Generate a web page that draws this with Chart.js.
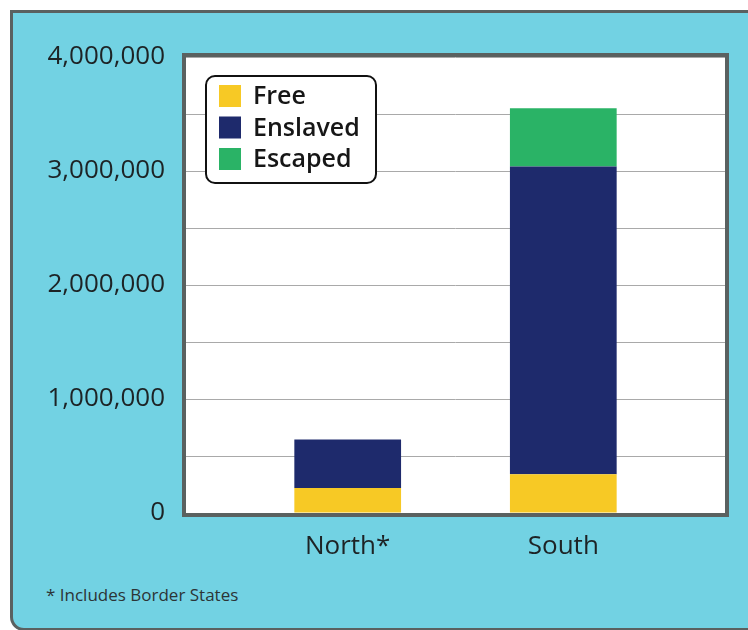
<!DOCTYPE html>
<html>
<head>
<meta charset="utf-8">
<script src="https://cdn.jsdelivr.net/npm/chart.js@4/dist/chart.umd.min.js"></script>
<style>
    body { margin: 0; background: #ffffff; width: 748px; height: 630px; overflow: hidden; position: relative; }
    .panel {
        position: absolute; left: 10px; top: 10px; width: 780px; height: 615px;
        background: #72d2e3; border: 3px solid #5a6160; border-bottom-left-radius: 14px;
    }
    .note {
        position: absolute; left: 46px; top: 583px;
        font-family: "Open Sans", sans-serif; font-size: 17px; color: #2c3436;
    }
    canvas { position: absolute; left: 0; top: 0; }
</style>
</head>
<body>
<div class="panel"></div>
<div class="note">* Includes Border States</div>
<canvas id="graph" width="748" height="630"></canvas>
<script>
// Population by region
let regions = ["North*", "South"];
let freeCounts = [220000, 340000];
let enslavedCounts = [425000, 2700000];
let escapedCounts = [0, 510000];
let seriesNames = ["Free", "Enslaved", "Escaped"];
let seriesColors = ["#f7c925", "#1e2a6c", "#2ab366"];
let yTickLabels = ["0", "1,000,000", "2,000,000", "3,000,000", "4,000,000"];

// Spacer categories push the two bars to where they sit in the original
let labels = ["", regions[0], "", regions[1], ""];
function spread(values) {
    return [null, values[0], null, values[1], null];
}

// White plot background and the thick grey frame
const plotFrame = {
    id: "plotFrame",
    beforeDraw(chart) {
        let ctx = chart.ctx;
        let a = chart.chartArea;
        ctx.save();
        ctx.fillStyle = "#ffffff";
        ctx.fillRect(a.left, a.top, a.right - a.left, a.bottom - a.top);
        ctx.restore();
    },
    afterDatasetsDraw(chart) {
        let ctx = chart.ctx;
        let a = chart.chartArea;
        ctx.save();
        ctx.strokeStyle = "#5a6160";
        ctx.lineWidth = 4;
        ctx.strokeRect(a.left - 2, a.top - 2, a.right - a.left + 4, a.bottom - a.top + 4);
        ctx.restore();
    }
};

// Boxed legend inside the plot, drawn from the datasets
const boxLegend = {
    id: "boxLegend",
    afterDraw(chart) {
        let ctx = chart.ctx;
        let x = 206, y = 76, w = 170, h = 107;
        ctx.save();
        ctx.beginPath();
        ctx.roundRect(x, y, w, h, 9);
        ctx.fillStyle = "#ffffff";
        ctx.fill();
        ctx.lineWidth = 2;
        ctx.strokeStyle = "#111111";
        ctx.stroke();
        ctx.font = "600 25px 'Open Sans', sans-serif";
        ctx.textBaseline = "middle";
        chart.data.datasets.forEach((ds, i) => {
            let cy = y + 20 + i * 31.5;
            ctx.fillStyle = ds.backgroundColor;
            ctx.fillRect(x + 13, cy - 11, 22, 22);
            ctx.fillStyle = "#161616";
            ctx.fillText(ds.label, x + 47, cy + 1);
        });
        ctx.restore();
    }
};

let ctx = document.getElementById("graph");
let chart = new Chart(ctx, {
    type: "bar",
    data: {
        labels: labels,
        datasets: [
            { label: seriesNames[0], data: spread(freeCounts), backgroundColor: seriesColors[0] },
            { label: seriesNames[1], data: spread(enslavedCounts), backgroundColor: seriesColors[1] },
            { label: seriesNames[2], data: spread(escapedCounts), backgroundColor: seriesColors[2] }
        ]
    },
    options: {
        responsive: false,
        animation: false,
        layout: { padding: { top: 57, right: 23, bottom: 57, left: 0 } },
        datasets: { bar: { barPercentage: 1, categoryPercentage: 0.99, borderWidth: 0 } },
        plugins: { legend: { display: false }, tooltip: { enabled: false } },
        scales: {
            x: {
                stacked: true,
                grid: { display: false },
                border: { display: false },
                ticks: {
                    padding: 10,
                    color: "#1d2325",
                    font: { family: "'Open Sans', sans-serif", size: 26 }
                },
                afterFit(scale) { scale.height = 60; }
            },
            y: {
                stacked: true,
                min: 0,
                max: 4000000,
                border: { display: false },
                grid: {
                    color: "#a9a9a9",
                    lineWidth: 1,
                    drawTicks: false
                },
                ticks: {
                    stepSize: 500000,
                    padding: 21,
                    color: "#1d2325",
                    font: { family: "'Open Sans', sans-serif", size: 26 },
                    callback(value) {
                        if (value % 1000000 !== 0) return "";
                        return yTickLabels[value / 1000000];
                    }
                },
                afterFit(scale) { scale.width = 186; }
            }
        }
    },
    plugins: [plotFrame, boxLegend]
});
</script>
</body>
</html>
